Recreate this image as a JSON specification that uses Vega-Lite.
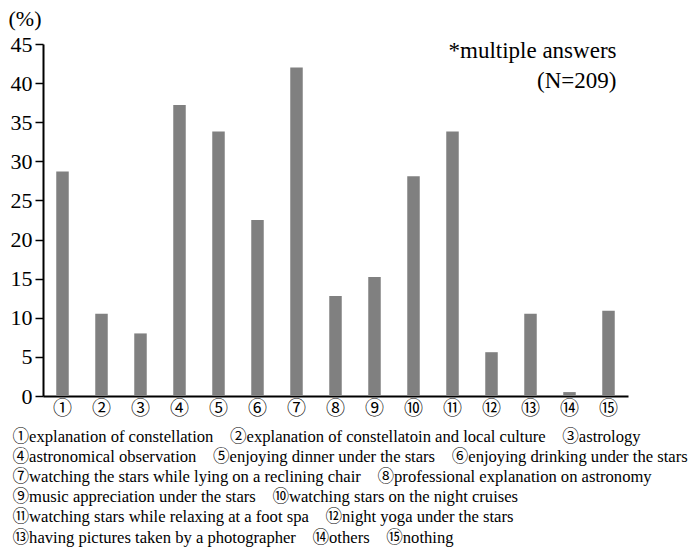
{
  "$schema": "https://vega.github.io/schema/vega-lite/v6.json",
  "width": 585,
  "height": 352,
  "autosize": "none",
  "padding": {"left": 43, "top": 44, "right": 62, "bottom": 152},
  "background": "white",
  "config": {
    "view": {"stroke": null},
    "axisY": {
      "grid": false,
      "labelFont": "Liberation Serif",
      "labelFontSize": 22,
      "labelColor": "black",
      "labelPadding": 3,
      "labelOverlap": false,
      "tickSize": 8,
      "tickColor": "black",
      "tickWidth": 1.5,
      "domainColor": "black",
      "domainWidth": 2,
      "titleAngle": 0,
      "titleFont": "Liberation Serif",
      "titleFontSize": 22,
      "titleFontWeight": "normal",
      "titleColor": "black",
      "titleAlign": "left",
      "titleBaseline": "middle",
      "titleX": -35,
      "titleY": -26
    },
    "axisX": {
      "labelAngle": 0,
      "labelFont": "Noto Sans CJK JP",
      "labelFontSize": 19,
      "labelColor": "black",
      "labelPadding": 3,
      "ticks": false,
      "domainColor": "black",
      "domainWidth": 2,
      "titleFont": "Liberation Serif, Noto Sans CJK JP",
      "titleFontSize": 16.6,
      "titleFontWeight": "normal",
      "titleColor": "black",
      "titleAlign": "left",
      "titleAnchor": "start",
      "titleBaseline": "alphabetic",
      "titleX": -31,
      "titleY": 45,
      "titleLineHeight": 20.2
    }
  },
  "layer": [
    {
      "data": {
        "values": [
          {"item": "①", "pct": 28.7},
          {"item": "②", "pct": 10.5},
          {"item": "③", "pct": 8.0},
          {"item": "④", "pct": 37.2},
          {"item": "⑤", "pct": 33.8},
          {"item": "⑥", "pct": 22.5},
          {"item": "⑦", "pct": 42.0},
          {"item": "⑧", "pct": 12.8},
          {"item": "⑨", "pct": 15.2},
          {"item": "⑩", "pct": 28.1},
          {"item": "⑪", "pct": 33.8},
          {"item": "⑫", "pct": 5.6},
          {"item": "⑬", "pct": 10.5},
          {"item": "⑭", "pct": 0.5},
          {"item": "⑮", "pct": 10.9}
        ]
      },
      "mark": {"type": "bar", "color": "#808080", "width": 12.5},
      "encoding": {
        "x": {
          "field": "item",
          "type": "nominal",
          "sort": null,
          "scale": {"paddingInner": 0.68, "paddingOuter": 0.34},
          "axis": {
            "title": [
              "①explanation of constellation\u00a0\u00a0\u00a0\u00a0②explanation of constellatoin and local culture\u00a0\u00a0\u00a0\u00a0③astrology",
              "④astronomical observation\u00a0\u00a0\u00a0\u00a0⑤enjoying dinner under the stars\u00a0\u00a0\u00a0\u00a0⑥enjoying drinking under the stars",
              "⑦watching the stars while lying on a reclining chair\u00a0\u00a0\u00a0\u00a0⑧professional explanation on astronomy",
              "⑨music appreciation under the stars\u00a0\u00a0\u00a0\u00a0⑩watching stars on the night cruises",
              "⑪watching stars while relaxing at a foot spa\u00a0\u00a0\u00a0\u00a0⑫night yoga under the stars",
              "⑬having pictures taken by a photographer\u00a0\u00a0\u00a0\u00a0⑭others\u00a0\u00a0\u00a0\u00a0⑮nothing"
            ]
          }
        },
        "y": {
          "field": "pct",
          "type": "quantitative",
          "scale": {"domain": [0, 45], "nice": false},
          "axis": {"values": [0, 5, 10, 15, 20, 25, 30, 35, 40, 45], "title": "(%)"}
        }
      }
    },
    {
      "data": {"values": [{"note": "annotation"}]},
      "mark": {
        "type": "text",
        "align": "right",
        "baseline": "alphabetic",
        "font": "Liberation Serif",
        "fontSize": 23,
        "lineHeight": 30,
        "color": "black",
        "dx": 8
      },
      "encoding": {
        "x": {"datum": "⑮", "type": "nominal"},
        "y": {
          "datum": 43.2,
          "type": "quantitative",
          "axis": {"values": [0, 5, 10, 15, 20, 25, 30, 35, 40, 45], "title": "(%)"}
        },
        "text": {"value": ["*multiple answers", "(N=209)"]}
      }
    }
  ]
}
